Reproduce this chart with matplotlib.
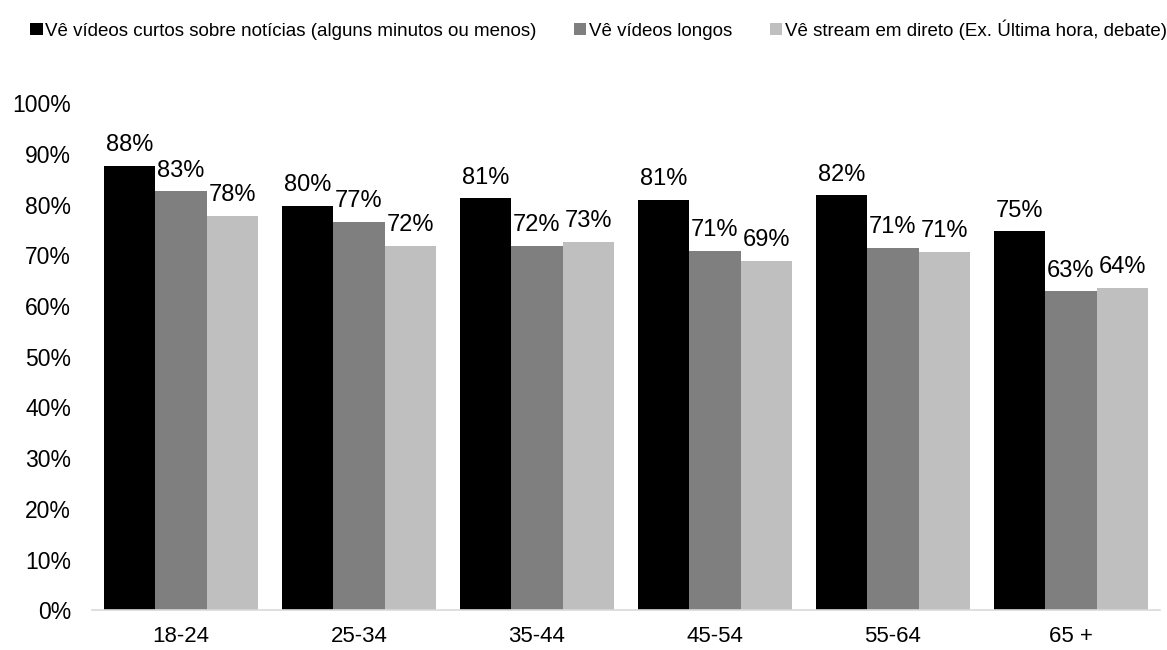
import numpy as np
import matplotlib.pyplot as plt
from matplotlib.ticker import FuncFormatter

plt.rcParams["font.family"] = ["Liberation Sans", "DejaVu Sans"]

categories = ["18-24", "25-34", "35-44", "45-54", "55-64", "65 +"]
series_names = [
    "Vê vídeos curtos sobre notícias (alguns minutos ou menos)",
    "Vê vídeos longos",
    "Vê stream em direto (Ex. Última hora, debate)",
]
curtos = [87.6, 79.8, 81.2, 80.9, 81.8, 74.7]
longos = [82.6, 76.6, 71.9, 70.9, 71.4, 62.9]
direto = [77.8, 71.8, 72.6, 68.9, 70.6, 63.6]
colors = ["#000000", "#7f7f7f", "#bfbfbf"]

fig = plt.figure(figsize=(11.67, 6.5), dpi=100)
ax = fig.add_axes([0.0788, 0.0608, 0.9152, 0.7807])

x = np.arange(len(categories))
w = 0.29
for i, (vals, name) in enumerate(zip([curtos, longos, direto], series_names)):
    bars = ax.bar(x + (i - 1) * w, vals, w, color=colors[i], label=name)
    for b, v in zip(bars, vals):
        ax.annotate(f"{v:.0f}%", (b.get_x() + b.get_width() / 2, v),
                    xytext=(0, 7), textcoords="offset points",
                    ha="center", va="bottom", fontsize=17, color="#000000")

ax.set_xlim(-0.5, len(categories) - 0.5)
ax.set_ylim(0, 100)
ax.set_yticks(np.arange(0, 101, 10))
ax.yaxis.set_major_formatter(FuncFormatter(lambda v, p: f"{v:.0f}%"))
ax.set_xticks(x)
ax.set_xticklabels(categories)
ax.tick_params(axis="both", length=0, labelsize=16.5)
ax.tick_params(axis="y", pad=15)
ax.tick_params(axis="x", pad=11, labelsize=16)
for s in ["top", "right", "left"]:
    ax.spines[s].set_visible(False)
ax.spines["bottom"].set_color("#d9d9d9")
ax.spines["bottom"].set_linewidth(1.2)

fig.legend(loc="center left", bbox_to_anchor=(0.026, 0.955), ncol=3, frameon=False,
           fontsize=13.5, handlelength=0.65, handleheight=0.65, handletextpad=0.15,
           columnspacing=2.0, borderaxespad=0, borderpad=0)

fig.savefig("out.png", dpi=100)
